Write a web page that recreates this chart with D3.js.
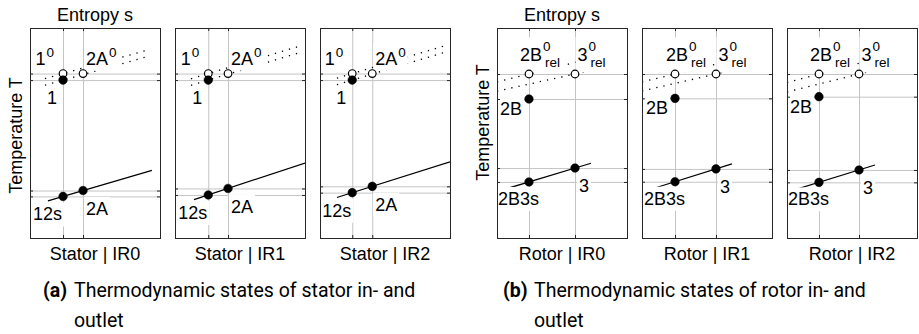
<!DOCTYPE html>
<html>
<head>
<meta charset="utf-8">
<script src="https://cdn.jsdelivr.net/npm/d3@7"></script>
<style>
  body { margin: 0; background: #fff; }
  svg text { font-family: "Liberation Sans", Arial, Helvetica, sans-serif; fill: #000; }
  svg text.caption { font-family: Roboto, "Noto Sans", sans-serif; }
</style>
</head>
<body>
<svg id="chart" width="919" height="334"></svg>
<script>
// ---- Stator in-/outlet states (normalised entropy s and temperature T) ----
const statorCases   = ["Stator | IR0", "Stator | IR1", "Stator | IR2"];
const statorS1      = [0.254, 0.256, 0.248];
const statorS2A     = [0.408, 0.408, 0.402];
const statorT0      = [0.783, 0.783, 0.783];   // T1^0 = T2A^0
const statorT1      = [0.752, 0.752, 0.752];
const statorT12s    = [0.198, 0.205, 0.216];
const statorT2A     = [0.226, 0.236, 0.246];
const statorP2Span  = [[0.138, 0.938], [0.146, 1.0], [0.13, 1.0]];   // s-extent of the p2 isobar
const statorP0Span  = [[0.115, 0.923], [0.123, 0.977], [0.13, 0.977]]; // s-extent of the dotted isobars
const statorP0Slope = [0.172, 0.186, 0.186];   // dT/ds of the dotted isobars

// ---- Rotor in-/outlet states ----
const rotorCases    = ["Rotor | IR0", "Rotor | IR1", "Rotor | IR2"];
const rotorS2B      = [0.246, 0.254, 0.246];
const rotorS3       = [0.600, 0.569, 0.554];
const rotorT0rel    = [0.781, 0.781, 0.781];   // T2B^0_rel = T3^0_rel
const rotorT2B      = [0.662, 0.665, 0.673];
const rotorT3       = [0.333, 0.329, 0.324];
const rotorT2B3s    = [0.267, 0.268, 0.265];
const rotorP3Span   = [[0, 0.723], [0, 0.692], [0, 0.677]];
const rotorP0Span   = [[0, 0.72], [0, 0.70], [0, 0.68]];
const rotorSlope2B0 = [0.155, 0.149, 0.167];
const rotorSlope30  = [0.136, 0.142, 0.155];

const captions = [
  { tag: "(a)", lines: ["Thermodynamic states of stator in- and", "outlet"] },
  { tag: "(b)", lines: ["Thermodynamic states of rotor in- and", "outlet"] }
];

// ---- layout ----
const svg = d3.select("#chart");
svg.append("rect").attr("width", 919).attr("height", 334).attr("fill", "#fff");

const PW = 130, TOP = 28, BOTTOM = 238, STEP = 145;
const statorLeft = 30, rotorLeft = 497;
const GRID = "#c4c4c4", FRAME = "#262626";

function makePanel(x0, sTicks, tTicks) {
  const x = d3.scaleLinear().domain([0, 1]).range([x0, x0 + PW]);
  const y = d3.scaleLinear().domain([0, 1]).range([BOTTOM, TOP]);
  const g = svg.append("g");
  const L = {
    grid: g.append("g"), lines: g.append("g"), labels: g.append("g"),
    marks: g.append("g"), frame: g.append("g")
  };
  const clipId = "clip" + x0;
  g.append("clipPath").attr("id", clipId).append("rect")
    .attr("x", x0).attr("y", TOP).attr("width", PW).attr("height", BOTTOM - TOP);
  L.lines.attr("clip-path", `url(#${clipId})`);

  // grid lines at the state values
  L.grid.append("g").attr("transform", `translate(0,${BOTTOM})`)
    .call(d3.axisBottom(x).tickValues(sTicks).tickSize(-(BOTTOM - TOP)).tickFormat(""));
  L.grid.append("g").attr("transform", `translate(${x0},0)`)
    .call(d3.axisLeft(y).tickValues(tTicks).tickSize(-PW).tickFormat(""));
  L.grid.selectAll(".domain").remove();
  L.grid.selectAll("line").attr("stroke", GRID).attr("stroke-width", 1);

  // inward tick marks on all four sides
  const tk = 3;
  L.frame.append("g").attr("transform", `translate(0,${BOTTOM})`)
    .call(d3.axisBottom(x).tickValues(sTicks).tickSize(-tk).tickFormat(""));
  L.frame.append("g").attr("transform", `translate(0,${TOP})`)
    .call(d3.axisTop(x).tickValues(sTicks).tickSize(-tk).tickFormat(""));
  L.frame.append("g").attr("transform", `translate(${x0},0)`)
    .call(d3.axisLeft(y).tickValues(tTicks).tickSize(-tk).tickFormat(""));
  L.frame.append("g").attr("transform", `translate(${x0 + PW},0)`)
    .call(d3.axisRight(y).tickValues(tTicks).tickSize(-tk).tickFormat(""));
  L.frame.selectAll(".domain").remove();
  L.frame.selectAll("line").attr("stroke", FRAME);
  L.frame.append("rect")
    .attr("x", x0 + 0.5).attr("y", TOP + 0.5).attr("width", PW).attr("height", BOTTOM - TOP)
    .attr("fill", "none").attr("stroke", FRAME).attr("stroke-width", 1);
  return { x, y, L, x0 };
}

const lineGen = (x, y) => d3.line().x(d => x(d[0])).y(d => y(d[1]));

// straight line through a state (s0, T0) with slope k, over the s-span
function isobar(s0, T0, k, span) {
  return span.map(s => [s, T0 + k * (s - s0)]);
}

function drawLine(P, pts, dotted) {
  P.L.lines.append("path").attr("d", lineGen(P.x, P.y)(pts))
    .attr("fill", "none").attr("stroke", "#000")
    .attr("stroke-width", dotted ? 1.3 : 1.2)
    .attr("stroke-dasharray", dotted ? "1.3,6" : null);
}

function drawPoint(P, s, T, open) {
  P.L.marks.append("circle").attr("cx", P.x(s)).attr("cy", P.y(T)).attr("r", open ? 3.8 : 4.3)
    .attr("fill", open ? "#fff" : "#000").attr("stroke", "#000").attr("stroke-width", open ? 1.2 : 0.5);
}

// label with optional superscript / subscript on a white box
function drawLabel(P, px, py, main, sup, sub, supRaise, subDrop) {
  const g = P.L.labels.append("g");
  const t = g.append("text").attr("x", px).attr("y", py).attr("font-size", 18).text(main);
  const w = t.node().getComputedTextLength();
  if (sup) g.append("text").attr("x", px + w + 1).attr("y", py - supRaise).attr("font-size", 13.5).text(sup);
  if (sub) g.append("text").attr("x", px + w + 3).attr("y", py + subDrop).attr("font-size", 13.5).text(sub);
  const bb = g.node().getBBox();
  g.insert("rect", "text")
    .attr("x", bb.x - 2).attr("y", bb.y - 2).attr("width", bb.width + 4).attr("height", bb.height + 4)
    .attr("fill", "#fff");
}

// ---- stator panels ----
statorCases.forEach((name, i) => {
  const s1 = statorS1[i], s2 = statorS2A[i];
  const P = makePanel(statorLeft + i * STEP, [s1, s2], [statorT12s[i], statorT2A[i], statorT1[i], statorT0[i]]);
  const k = (statorT2A[i] - statorT12s[i]) / (s2 - s1);
  drawLine(P, isobar(s1, statorT12s[i], k, statorP2Span[i]), false);
  drawLine(P, isobar(s1, statorT0[i], statorP0Slope[i], statorP0Span[i]), true);
  drawLine(P, isobar(s1, statorT1[i], statorP0Slope[i], statorP0Span[i]), true);

  const X1 = P.x(s1), X2 = P.x(s2);
  drawLabel(P, X1 - 27.5, P.y(statorT0[i]) - 8.5, "1", "0", null, 8, 0);
  drawLabel(P, X2 + 3, P.y(statorT0[i]) - 9, "2A", "0", null, 8, 0);
  drawLabel(P, X1 - 16, P.y(statorT1[i]) + 24, "1");
  drawLabel(P, X1 - 30, P.y(statorT12s[i]) + 24, "12s");
  drawLabel(P, X2 + 3, P.y(statorT2A[i]) + 24.5, "2A");

  drawPoint(P, s1, statorT0[i], true);
  drawPoint(P, s2, statorT0[i], true);
  drawPoint(P, s1, statorT1[i], false);
  drawPoint(P, s1, statorT12s[i], false);
  drawPoint(P, s2, statorT2A[i], false);

  svg.append("text").attr("x", P.x0 + PW / 2).attr("y", 260).attr("text-anchor", "middle")
    .attr("font-size", 18).text(name);
});

// ---- rotor panels ----
rotorCases.forEach((name, i) => {
  const sB = rotorS2B[i], s3 = rotorS3[i];
  const P = makePanel(rotorLeft + i * STEP, [sB, s3], [rotorT2B3s[i], rotorT3[i], rotorT2B[i], rotorT0rel[i]]);
  const k = (rotorT3[i] - rotorT2B3s[i]) / (s3 - sB);
  drawLine(P, isobar(sB, rotorT2B3s[i], k, rotorP3Span[i]), false);
  drawLine(P, isobar(sB, rotorT0rel[i], rotorSlope2B0[i], rotorP0Span[i]), true);
  drawLine(P, isobar(s3, rotorT0rel[i], rotorSlope30[i], rotorP0Span[i]), true);

  const XB = P.x(sB), X3 = P.x(s3);
  drawLabel(P, XB - 9, P.y(rotorT0rel[i]) - 12.5, "2B", "0", "rel", 10, 6);
  drawLabel(P, X3 + 2.5, P.y(rotorT0rel[i]) - 13, "3", "0", "rel", 10, 6.5);
  drawLabel(P, XB - 29, P.y(rotorT2B[i]) + 16, "2B");
  drawLabel(P, X3 + 4, P.y(rotorT3[i]) + 24, "3");
  drawLabel(P, XB - 31, P.y(rotorT2B3s[i]) + 23, "2B3s");

  drawPoint(P, sB, rotorT0rel[i], true);
  drawPoint(P, s3, rotorT0rel[i], true);
  drawPoint(P, sB, rotorT2B[i], false);
  drawPoint(P, s3, rotorT3[i], false);
  drawPoint(P, sB, rotorT2B3s[i], false);

  svg.append("text").attr("x", P.x0 + PW / 2).attr("y", 260).attr("text-anchor", "middle")
    .attr("font-size", 18).text(name);
});

// ---- axis titles ----
[[statorLeft, 135.5], [rotorLeft, 122.5]].forEach(([x0, yc]) => {
  svg.append("text").attr("x", x0 + PW / 2).attr("y", 21).attr("text-anchor", "middle")
    .attr("font-size", 18).text("Entropy s");
  svg.append("text").attr("transform", `translate(${x0 - 8},${yc}) rotate(-90)`)
    .attr("text-anchor", "middle").attr("font-size", 18).text("Temperature T");
});

// ---- sub-figure captions ----
[[43, 74], [503, 534]].forEach(([xt, xb], i) => {
  svg.append("text").attr("class", "caption").attr("x", xt).attr("y", 297)
    .attr("font-size", 19.5).attr("font-weight", 700).text(captions[i].tag);
  captions[i].lines.forEach((ln, j) => {
    svg.append("text").attr("class", "caption").attr("x", xb).attr("y", 297 + j * 30)
      .attr("font-size", 19.5).text(ln);
  });
});
</script>
</body>
</html>
